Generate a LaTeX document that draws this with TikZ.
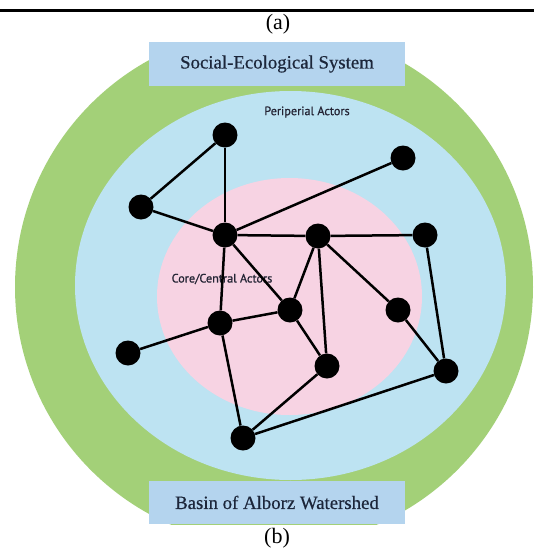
\documentclass[tikz,border=0pt]{standalone}
\usepackage{fontspec}
\setmainfont{Liberation Serif}
\newfontfamily\bannerfont[FakeBold=0.5]{Liberation Serif}
\newfontfamily\lblfont[FakeBold=0.8]{PT Sans}
\definecolor{ringgreen}{RGB}{163,208,120}
\definecolor{ringblue}{RGB}{189,227,242}
\definecolor{ringpink}{RGB}{247,211,227}
\definecolor{boxblue}{RGB}{180,212,238}
\definecolor{boxtext}{RGB}{28,38,58}
\definecolor{lbltext}{RGB}{36,36,52}
\begin{document}
\begin{tikzpicture}[x=1pt,y=-1pt,
  actor/.style={circle,fill=black,minimum size=25pt,inner sep=0pt},
  link/.style={line width=2.5pt,black},
  banner/.style={fill=boxblue,draw=none,minimum width=256pt,inner sep=0pt,text=boxtext,font=\bannerfont\fontsize{18.8}{20}\selectfont},
  zonelabel/.style={text=lbltext,inner sep=0pt,font=\lblfont\fontsize{12.2}{14}\selectfont},
  caption/.style={inner sep=0pt,font=\fontsize{22}{24}\selectfont}]
\useasboundingbox (0,0) rectangle (534,550);
\clip (0,0) rectangle (534,550);
\fill[white] (0,0) rectangle (534,550);
% rings (the figure is cut at the top and bottom banners)
\begin{scope}
\clip (0,42) rectangle (534,524);
\fill[ringgreen] (274,287) circle [radius=259];
\fill[ringblue] (290.5,285.5) ellipse [x radius=215.5, y radius=194.5];
\fill[ringpink] (289.5,296.5) ellipse [x radius=132.5, y radius=118.5];
\end{scope}
% top rule
\draw[line width=3pt] (0,10.7) -- (534,10.7);
% banners
\node[banner,minimum height=44pt] (top) at (277,64) {Social-Ecological System};
\node[banner,minimum height=43pt] (bot) at (277,502.5) {Basin of Alborz Watershed};
\node[caption] (capa) at (278,24) {(a)};
\node[caption] (capb) at (277,538) {(b)};
% zone labels
\node[zonelabel] (peri) at (307,112) {Periperial Actors};
\node[zonelabel] (core) at (222,279) {Core/Central Actors};
% actors
\node[actor] (n1) at (225,135) {};
\node[actor] (n2) at (403,158) {};
\node[actor] (n3) at (141,207) {};
\node[actor] (n4) at (225,235) {};
\node[actor] (n5) at (318,236) {};
\node[actor] (n6) at (425,235) {};
\node[actor] (n7) at (290,310) {};
\node[actor] (n8) at (220,323) {};
\node[actor] (n9) at (398,310) {};
\node[actor] (n10) at (128,353) {};
\node[actor] (n11) at (327,366) {};
\node[actor] (n12) at (446,371) {};
\node[actor] (n13) at (243,438) {};
% links
\draw[link] (n1) -- (n3);
\draw[link] (n1) -- (n4);
\draw[link] (n3) -- (n4);
\draw[link] (n4) -- (n2);
\draw[link] (n4) -- (n5);
\draw[link] (n5) -- (n6);
\draw[link] (n4) -- (n8);
\draw[link] (n4) -- (n7);
\draw[link] (n5) -- (n7);
\draw[link] (n5) -- (n11);
\draw[link] (n5) -- (n9);
\draw[link] (n6) -- (n12);
\draw[link] (n7) -- (n8);
\draw[link] (n7) -- (n11);
\draw[link] (n8) -- (n10);
\draw[link] (n8) -- (n13);
\draw[link] (n9) -- (n12);
\draw[link] (n11) -- (n13);
\draw[link] (n12) -- (n13);
\end{tikzpicture}
\end{document}
